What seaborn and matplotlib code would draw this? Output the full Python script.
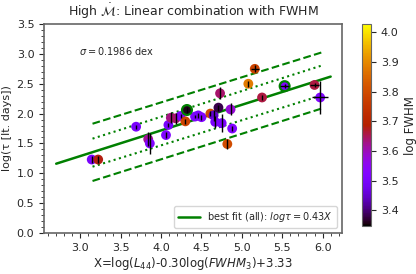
import numpy as np
import pandas as pd
import matplotlib
matplotlib.use('Agg')
import matplotlib.pyplot as plt
import seaborn as sns

# measured sources
x_vals = [3.14, 3.22, 3.69, 3.84, 3.86, 4.06, 4.09, 4.12, 4.18, 4.24, 4.30, 4.32, 4.42, 4.46, 4.50,
          4.61, 4.65, 4.67, 4.71, 4.73, 4.75, 4.82, 4.86, 4.88, 5.08, 5.16, 5.25, 5.53, 5.90, 5.97]
y_vals = [1.23, 1.23, 1.78, 1.57, 1.50, 1.64, 1.81, 1.93, 1.92, 1.96, 1.87, 2.06, 1.95, 1.97, 1.94,
          2.00, 1.97, 1.86, 2.10, 2.34, 1.84, 1.49, 2.07, 1.75, 2.50, 2.75, 2.27, 2.46, 2.48, 2.27]
y_err = [0.06, 0.06, 0.03, 0.12, 0.18, 0.05, 0.03, 0.09, 0.09, 0.04, 0.04, 0.05, 0.03, 0.04, 0.04,
         0.04, 0.09, 0.10, 0.05, 0.10, 0.15, 0.08, 0.10, 0.04, 0.05, 0.06, 0.04, 0.03, 0.04, 0.27]
x_err = [0.0, 0.0, 0.0, 0.0, 0.0, 0.0, 0.0, 0.0, 0.0, 0.0, 0.0, 0.0, 0.0, 0.0, 0.0,
         0.0, 0.0, 0.0, 0.0, 0.0, 0.0, 0.0, 0.0, 0.0, 0.0, 0.05, 0.0, 0.06, 0.06, 0.10]
log_fwhm = [3.50, 3.68, 3.50, 3.62, 3.52, 3.52, 3.50, 3.63, 3.64, 3.52, 3.78, 3.36, 3.51, 3.50, 3.52,
            3.80, 3.45, 3.50, 3.38, 3.64, 3.51, 3.80, 3.58, 3.52, 3.88, 3.78, 3.66, 3.52, 3.66, 3.52]
ringed = [False] * 30
ringed[11] = True
ringed[27] = True

# best fit and scatter bands
fit_x = [2.70, 6.10]
fit_y = [1.16, 2.62]
band_x = [3.15, 6.00]
dot_hi = [1.58, 2.81]
dot_lo = [1.11, 2.31]
dash_hi = [1.83, 3.03]
dash_lo = [0.87, 2.09]

vmin, vmax = 3.347, 4.027

df = pd.DataFrame({'X': x_vals, 'logtau': y_vals, 'logFWHM': log_fwhm, 'ring': ringed})

sns.set_style('ticks')
plt.rcParams['font.family'] = ['DejaVu Sans']

fig = plt.figure(figsize=(4.16, 2.74), dpi=100)
ax = fig.add_axes([0.106, 0.150, 0.716, 0.762])
cax = fig.add_axes([0.870, 0.175, 0.022, 0.737])

ax.plot(fit_x, fit_y, color='green', lw=1.8, label=r'best fit (all): $log\tau=0.43X$', zorder=3)
ax.plot(band_x, dot_hi, color='green', ls=':', lw=1.5, zorder=3)
ax.plot(band_x, dot_lo, color='green', ls=':', lw=1.5, zorder=3)
ax.plot(band_x, dash_hi, color='green', ls='--', lw=1.5, zorder=3)
ax.plot(band_x, dash_lo, color='green', ls='--', lw=1.5, zorder=3)

sns.scatterplot(data=df[~df.ring], x='X', y='logtau', hue='logFWHM', palette='gnuplot',
                hue_norm=(vmin, vmax), s=50, edgecolor='none', legend=False, ax=ax, zorder=4)
sns.scatterplot(data=df[df.ring], x='X', y='logtau', hue='logFWHM', palette='gnuplot',
                hue_norm=(vmin, vmax), s=50, edgecolor='green', linewidth=1.6, legend=False,
                ax=ax, zorder=4)
ax.errorbar(x_vals, y_vals, yerr=y_err, xerr=x_err, fmt='none', ecolor='black', elinewidth=1.0, zorder=5)

ax.text(2.98, 3.05, r'$\sigma=0.1986$ dex', fontsize=7, va='center')

ax.set_xlim(2.55, 6.24)
ax.set_ylim(0, 3.5)
ax.minorticks_on()
ax.tick_params(labelsize=8)
ax.set_title(r'High $\dot{\mathcal{M}}$: Linear combination with FWHM', fontsize=9)
ax.set_xlabel(r'X=log($L_{44}$)-0.30log($FWHM_3$)+3.33', fontsize=8.5, labelpad=2)
ax.set_ylabel('log(τ [lt. days])', fontsize=8, labelpad=3)
for sp in ax.spines.values():
    sp.set_color('#666666')
    sp.set_linewidth(1.2)
ax.legend(loc='lower right', fontsize=7, handlelength=2.2)

sm = plt.cm.ScalarMappable(cmap='gnuplot', norm=plt.Normalize(vmin, vmax))
cb = fig.colorbar(sm, cax=cax)
cb.set_label('log FWHM', fontsize=8.5)
cb.ax.tick_params(labelsize=8)
cb.outline.set_edgecolor('#666666')

fig.savefig('out.png', dpi=100)
